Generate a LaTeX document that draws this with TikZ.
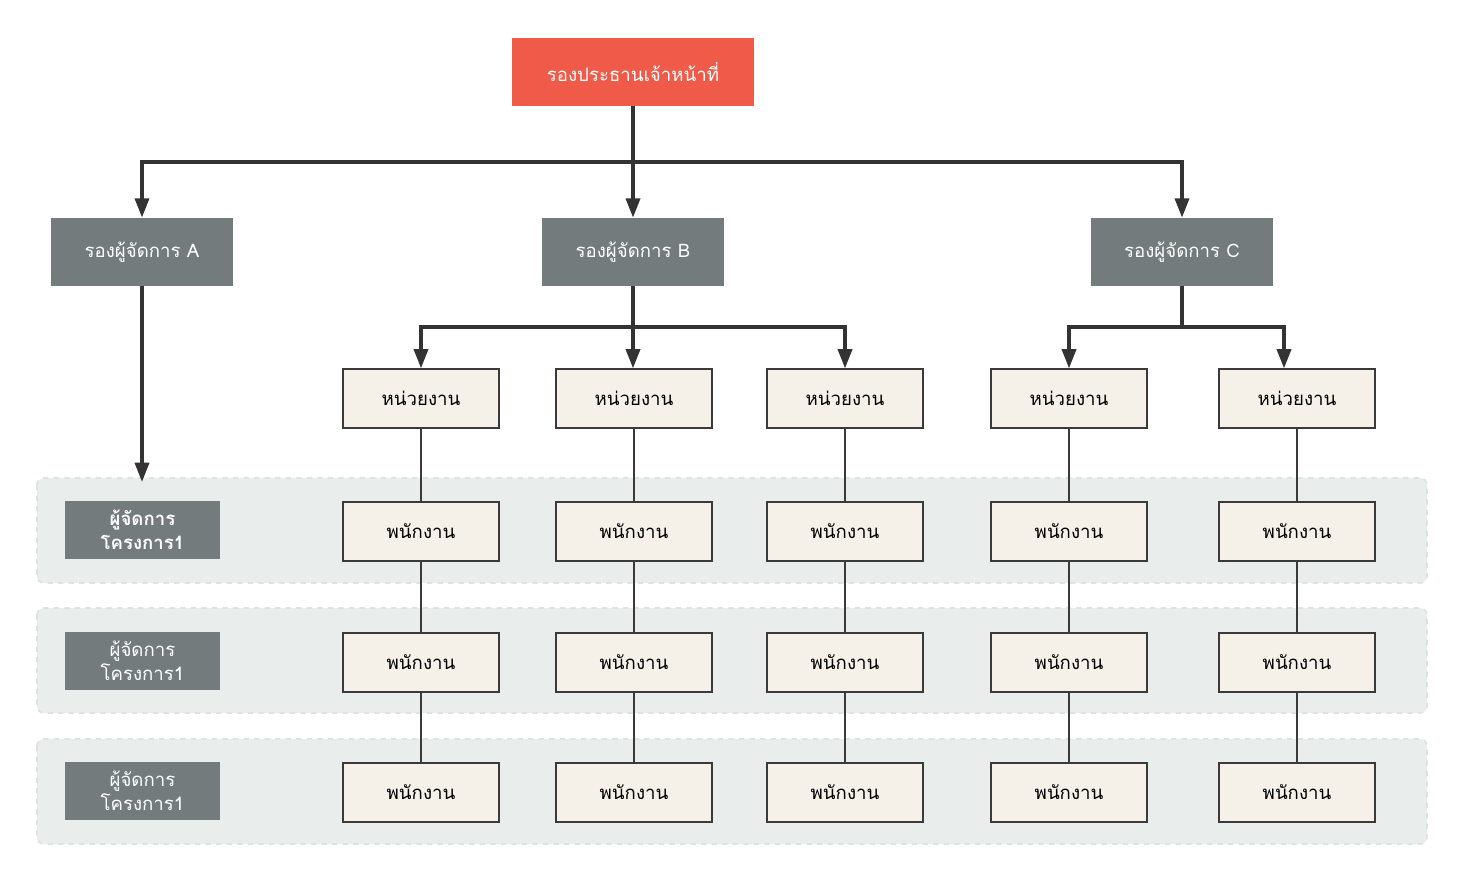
\documentclass[tikz,border=0pt]{standalone}
\usepackage{fontspec}
\newfontfamily\thaifont[Script=Thai]{Loma}
\usetikzlibrary{arrows.meta}
\definecolor{chiefred}{HTML}{F05A48}
\definecolor{mgrgray}{HTML}{737B7C}
\definecolor{unitfill}{HTML}{F5F1E8}
\definecolor{edgegray}{HTML}{3A3A3A}
\definecolor{bandfill}{HTML}{E9EEEC}
\definecolor{bandedge}{HTML}{DCE3E1}
\definecolor{linegray}{HTML}{333333}
\begin{document}
\begin{tikzpicture}[x=0.02cm,y=-0.02cm,
  font=\thaifont\fontsize{10.6}{13.6}\selectfont,
  chief/.style={fill=chiefred,text=white,minimum width=4.84cm,minimum height=1.36cm,inner sep=0pt},
  deputy/.style={fill=mgrgray,text=white,minimum width=3.64cm,minimum height=1.36cm,inner sep=0pt},
  unit/.style={draw=edgegray,fill=unitfill,line width=0.7pt,minimum width=3.12cm,minimum height=1.18cm,inner sep=0pt},
  pm/.style={fill=mgrgray,text=white,align=center,minimum width=3.1cm,minimum height=1.16cm,inner sep=0pt},
  band/.style={draw=bandedge,fill=bandfill,dashed,line width=1pt,rounded corners=4pt},
  feed/.style={draw=linegray,line width=2pt,-{Triangle[width=8pt,length=11pt]}},
  trunk/.style={draw=linegray,line width=2pt},
  link/.style={draw=edgegray,line width=0.7pt}]
  \useasboundingbox (0,0) rectangle (1464,881);
  % row bands
  \foreach \y in {478,608,739}
    \draw[band] (37,\y) rectangle (1427,\y+105);
  % top and deputies
  \node[chief] (chief) at (633,72) {รองประธานเจ้าหน้าที่};
  \node[deputy] (dA) at (142,252) {รองผู้จัดการ A};
  \node[deputy] (dB) at (633,252) {รองผู้จัดการ B};
  \node[deputy] (dC) at (1182,252) {รองผู้จัดการ C};
  % project managers
  \node[pm,font=\thaifont\bfseries\fontsize{10.6}{13.6}\selectfont] (pm1) at (142.5,530) {ผู้จัดการ\\โครงการ1};
  \node[pm] (pm2) at (142.5,661) {ผู้จัดการ\\โครงการ1};
  \node[pm] (pm3) at (142.5,791) {ผู้จัดการ\\โครงการ1};
  % units and staff
  \foreach \x [count=\i] in {421,634,845,1069,1297} {
    \node[unit] (u\i) at (\x,398.5) {หน่วยงาน};
    \foreach \y [count=\r] in {531.5,662.5,792.5}
      \node[unit] (e\r-\i) at (\x,\y) {พนักงาน};
    \draw[link] (u\i) -- (e1-\i) (e1-\i) -- (e2-\i) (e2-\i) -- (e3-\i);
  }
  % connectors
  \coordinate (hub) at (633,162);
  \coordinate (aend) at (142,482);
  \coordinate (bhub) at (633,327);
  \coordinate (chub) at (1182,327);
  \draw[feed] (chief) -- (dB);
  \draw[feed] (hub) -| (dA);
  \draw[feed] (hub) -| (dC);
  \draw[feed] (dA) -- (aend);
  \draw[trunk] (dB) -- (bhub);
  \draw[feed] (bhub) -| (u1);
  \draw[feed] (bhub) -- (bhub |- u2.north);
  \draw[feed] (bhub) -| (u3);
  \draw[trunk] (dC) -- (chub);
  \draw[feed] (chub) -| (u4);
  \draw[feed] (chub) -| ([xshift=-0.26cm]u5.north);
\end{tikzpicture}
\end{document}
